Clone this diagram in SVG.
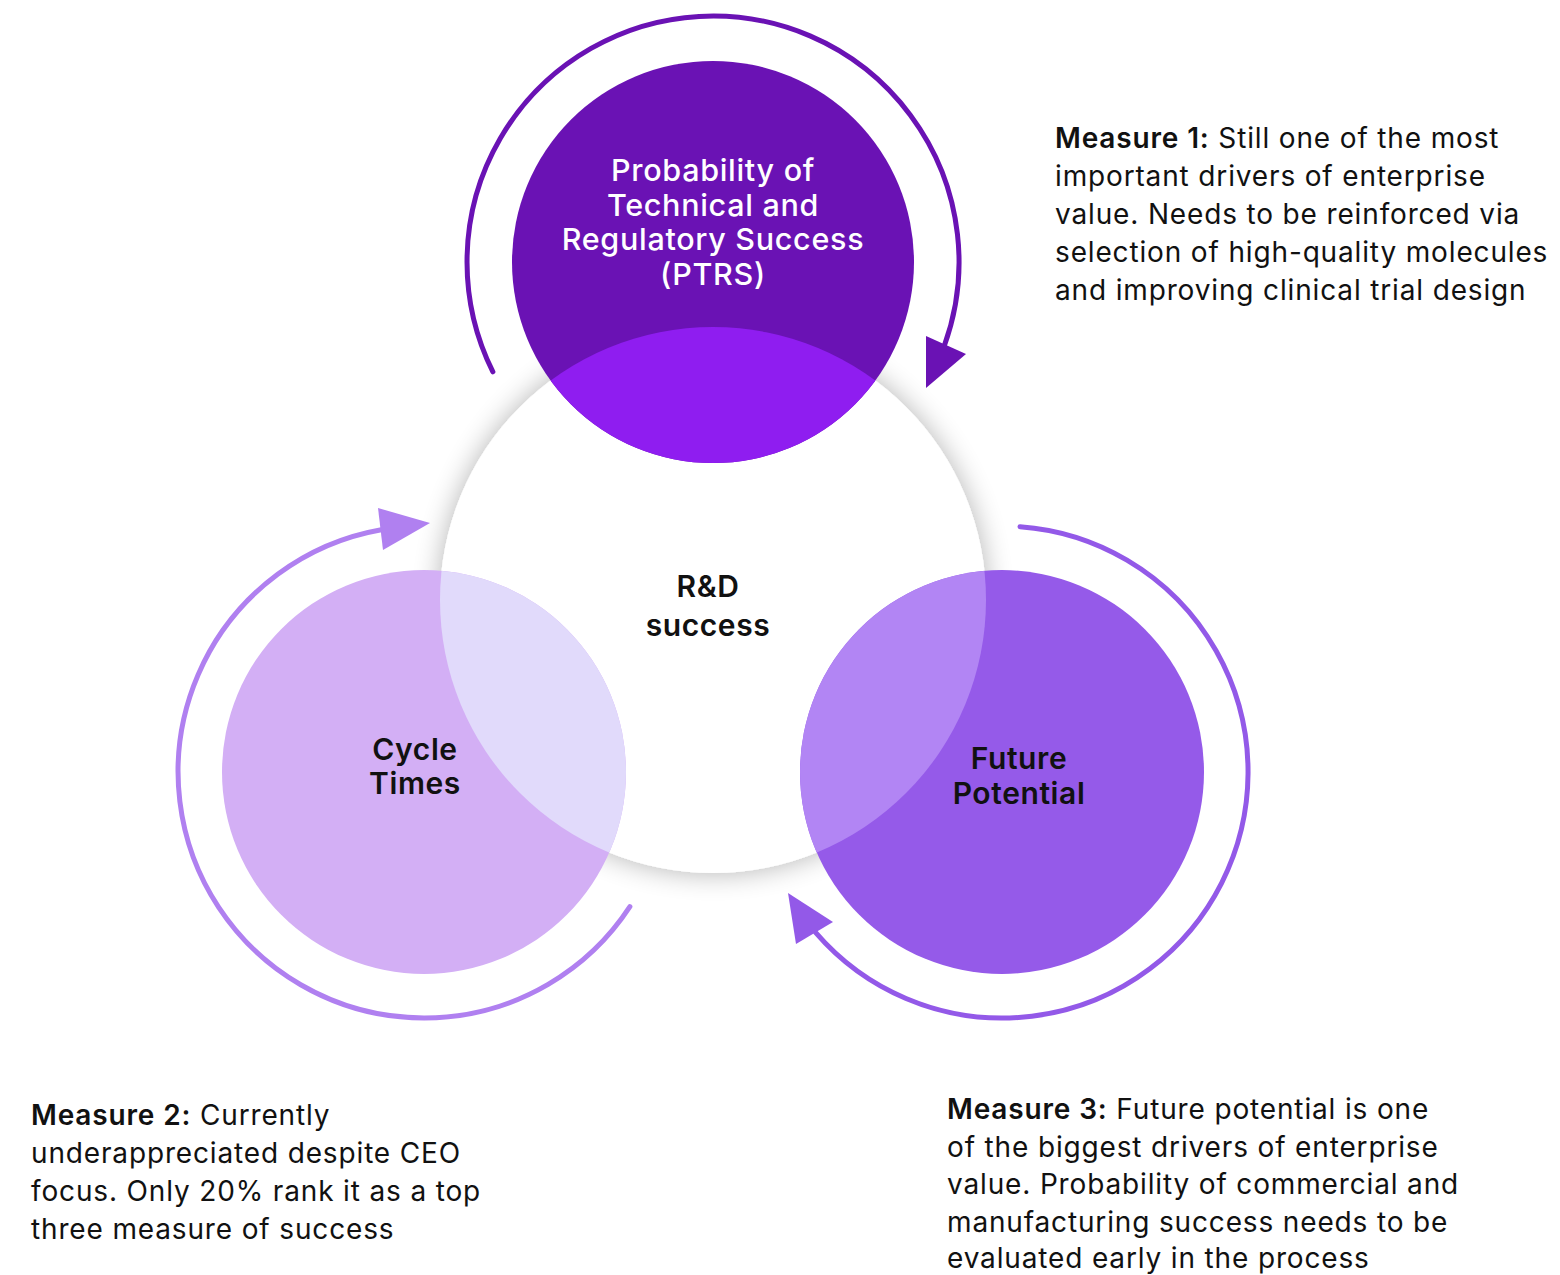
<svg xmlns="http://www.w3.org/2000/svg" width="1560" height="1275" viewBox="0 0 1560 1275">
  <style>
    .node-label { font-family: Inter, "Liberation Sans", sans-serif; font-size: 30px; font-weight: 600; text-anchor: middle; fill: #111111; letter-spacing: 0.6px; }
    .ptrs-label { font-family: Inter, "Liberation Sans", sans-serif; font-size: 30.5px; font-weight: 500; text-anchor: middle; fill: #ffffff; letter-spacing: 0.7px; }
    .note { font-family: Inter, "Liberation Sans", sans-serif; font-size: 28px; font-weight: 400; fill: #111111; letter-spacing: 0.85px; }
    .note .lead { font-weight: 600; }
    .arc { fill: none; stroke-width: 5; stroke-linecap: round; }
  </style>
  <defs>
    <filter id="softShadow" x="-20%" y="-20%" width="140%" height="140%">
      <feGaussianBlur in="SourceAlpha" stdDeviation="14"/>
      <feComponentTransfer><feFuncA type="linear" slope="0.3"/></feComponentTransfer>
      <feMerge><feMergeNode/><feMergeNode in="SourceGraphic"/></feMerge>
    </filter>
    <clipPath id="hubClip"><circle cx="713" cy="600" r="273"/></clipPath>
  </defs>

  <rect width="1560" height="1275" fill="#ffffff"/>

  <!-- central hub -->
  <g id="hub">
    <circle cx="713" cy="600" r="273" fill="#ffffff" filter="url(#softShadow)"/>
  </g>

  <!-- PTRS node -->
  <g id="node-ptrs">
    <circle cx="713" cy="262" r="201" fill="#6A12B4"/>
    <circle cx="713" cy="262" r="201" fill="#8F1DF0" clip-path="url(#hubClip)"/>
    <text class="ptrs-label" x="713" y="181">Probability of</text>
    <text class="ptrs-label" x="713" y="216">Technical and</text>
    <text class="ptrs-label" x="713" y="250">Regulatory Success</text>
    <text class="ptrs-label" x="713" y="285">(PTRS)</text>
  </g>

  <!-- Cycle Times node -->
  <g id="node-cycle">
    <circle cx="424" cy="772" r="202" fill="#D3AFF5"/>
    <circle cx="424" cy="772" r="202" fill="#E1DAFB" clip-path="url(#hubClip)"/>
    <text class="node-label" x="415" y="760">Cycle</text>
    <text class="node-label" x="415" y="794">Times</text>
  </g>

  <!-- Future Potential node -->
  <g id="node-future">
    <circle cx="1002" cy="772" r="202" fill="#955AE9"/>
    <circle cx="1002" cy="772" r="202" fill="#B285F4" clip-path="url(#hubClip)"/>
    <text class="node-label" x="1019" y="769">Future</text>
    <text class="node-label" x="1019" y="804">Potential</text>
  </g>

  <!-- hub label -->
  <g id="hub-label">
    <text class="node-label" x="708" y="597" font-size="29">R&amp;D</text>
    <text class="node-label" x="708" y="636" font-size="29">success</text>
  </g>

  <!-- circular connectors -->
  <g id="connectors">
    <path class="arc" stroke="#6A12B4" d="M 492.9 371.8 A 246 246 0 1 1 944.2 346.1"/>
    <polygon fill="#6A12B4" points="926,336 966,354 926,388"/>
    <path class="arc" stroke="#B080F0" d="M 629.9 906.7 A 246 246 0 1 1 381.3 529.7"/>
    <polygon fill="#B080F0" points="378,508 430,523 383,550"/>
    <path class="arc" stroke="#9359E8" d="M 1020 526.7 A 246 246 0 1 1 815.5 932.4"/>
    <polygon fill="#9359E8" points="788,893 833,922 796,944"/>
  </g>

  <!-- measure notes -->
  <g id="note-1">
    <text class="note" x="1055" y="148"><tspan class="lead">Measure 1:</tspan> Still one of the most</text>
    <text class="note" x="1055" y="186">important drivers of enterprise</text>
    <text class="note" x="1055" y="224">value. Needs to be reinforced via</text>
    <text class="note" x="1055" y="262">selection of high-quality molecules</text>
    <text class="note" x="1055" y="300">and improving clinical trial design</text>
  </g>
  <g id="note-2">
    <text class="note" x="31" y="1125"><tspan class="lead">Measure 2:</tspan> Currently</text>
    <text class="note" x="31" y="1163">underappreciated despite CEO</text>
    <text class="note" x="31" y="1201">focus. Only 20% rank it as a top</text>
    <text class="note" x="31" y="1239">three measure of success</text>
  </g>
  <g id="note-3">
    <text class="note" x="947" y="1119"><tspan class="lead">Measure 3:</tspan> Future potential is one</text>
    <text class="note" x="947" y="1156.5">of the biggest drivers of enterprise</text>
    <text class="note" x="947" y="1194">value. Probability of commercial and</text>
    <text class="note" x="947" y="1231.5">manufacturing success needs to be</text>
    <text class="note" x="947" y="1268">evaluated early in the process</text>
  </g>
</svg>
